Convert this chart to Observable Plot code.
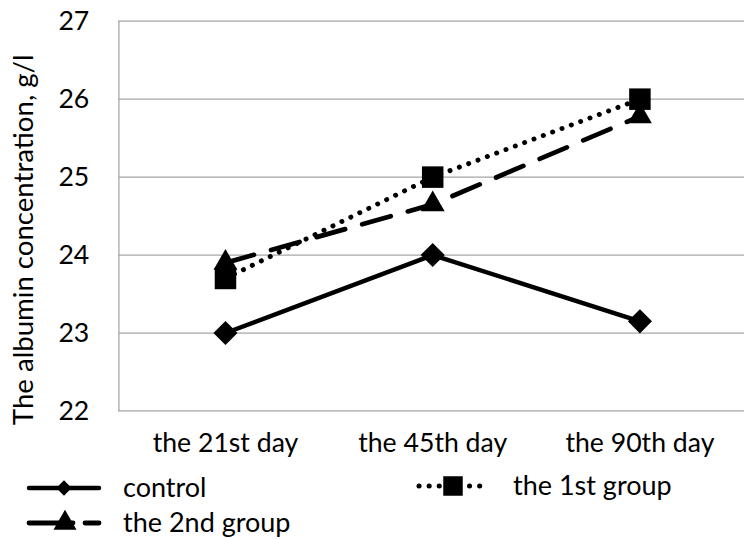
<!DOCTYPE html>
<html>
<head>
<meta charset="utf-8">
<script src="https://cdn.jsdelivr.net/npm/d3@7"></script>
<script src="https://cdn.jsdelivr.net/npm/@observablehq/plot@0.6"></script>
<style>
  html, body { margin: 0; padding: 0; background: #fff; overflow: hidden; }
  #wrap { position: relative; width: 745px; height: 539px; overflow: hidden; font-family: Lato, "Open Sans", sans-serif; }
  #legend { position: absolute; left: 0; top: 455px; }
</style>
</head>
<body>
<div id="wrap"></div>
<script>
const categories = ["the 21st day", "the 45th day", "the 90th day"];
const seriesNames = ["control", "the 1st group", "the 2nd group"];
const control = [23.0, 24.0, 23.15];
const group1 = [23.7, 25.0, 26.0];
const group2 = [23.9, 24.65, 25.78];
const yTicks = [22, 23, 24, 25, 26, 27];
const yLabel = "The albumin concentration, g/l";

const seriesValues = [control, group1, group2];
const rows = [];
seriesNames.forEach((s, i) => categories.forEach((c, j) => rows.push({series: s, day: c, value: seriesValues[i][j]})));

const styles = {
  "control": {dash: null, width: 4.5, symbol: "diamond2", r: 11},
  "the 1st group": {dash: "0.1,10", width: 5, symbol: "square", r: 12.3},
  "the 2nd group": {dash: "30,18", width: 4.8, symbol: "triangle", r: 9}
};

const marks = [
  Plot.gridY(yTicks, {stroke: "#a6a6a6", strokeOpacity: 1, strokeWidth: 1.3}),
  Plot.frame({anchor: "left", stroke: "#a6a6a6", strokeWidth: 1.3}),
  Plot.axisY(yTicks, {tickSize: 0, tickPadding: 30, fontSize: 27, label: null, tickFormat: d3.format("d")}),
  Plot.axisX({tickSize: 0, tickPadding: 22, fontSize: 27, label: null}),
  Plot.text([yLabel], {frameAnchor: "left", text: d => d, rotate: -90, textAnchor: "middle", dx: -96, dy: 24, fontSize: 28, letterSpacing: "0.6px"})
];
for (const s of seriesNames) {
  const st = styles[s];
  const data = rows.filter(d => d.series === s);
  marks.push(Plot.line(data, {x: "day", y: "value", stroke: "black", strokeWidth: st.width, strokeDasharray: st.dash, strokeLinecap: "round", strokeLinejoin: "round"}));
}
for (const s of seriesNames) {
  const st = styles[s];
  const data = rows.filter(d => d.series === s);
  marks.push(Plot.dot(data, {x: "day", y: "value", symbol: st.symbol, r: st.r, fill: "black", stroke: null}));
}

const chart = Plot.plot({
  width: 755,
  height: 455,
  marginLeft: 120,
  marginRight: 1,
  marginTop: 21,
  marginBottom: 39,
  insetLeft: 2,
  style: {fontFamily: "Lato, 'Open Sans', sans-serif", fontSize: "27px", color: "#000", background: "#fff", overflow: "visible"},
  x: {type: "point", domain: categories, padding: 0.5},
  y: {domain: [22, 27]},
  marks
});
document.getElementById("wrap").appendChild(chart);

// Legend
const lg = d3.select("#wrap").append("svg").attr("id", "legend").attr("width", 745).attr("height", 84)
  .style("font-family", "Lato, 'Open Sans', sans-serif").style("font-size", "27px");
const items = [
  {name: seriesNames[0], x1: 29, x2: 99, cx: 64, y: 33, tx: 123, size: 150},
  {name: seriesNames[1], x1: 419, x2: 483, cx: 453, y: 31, tx: 513, size: 380},
  {name: seriesNames[2], x1: 29, x2: 99, cx: 65, y: 68, tx: 123, size: 230}
];
const symMap = {"diamond2": d3.symbolDiamond2, "square": d3.symbolSquare, "triangle": d3.symbolTriangle};
for (const it of items) {
  const st = styles[it.name];
  const g = lg.append("g");
  g.append("line").attr("x1", it.x1).attr("x2", it.x2).attr("y1", it.y).attr("y2", it.y)
    .attr("stroke", "black").attr("stroke-width", st.width)
    .attr("stroke-linecap", "round")
    .attr("stroke-dasharray", it.name === "the 2nd group" ? "44,12" : st.dash);
  g.append("path").attr("d", d3.symbol(symMap[st.symbol], it.size)())
    .attr("transform", `translate(${it.cx},${it.y})`).attr("fill", "black");
  g.append("text").attr("x", it.tx).attr("y", it.y).attr("dy", "0.35em").text(it.name);
}
</script>
</body>
</html>
